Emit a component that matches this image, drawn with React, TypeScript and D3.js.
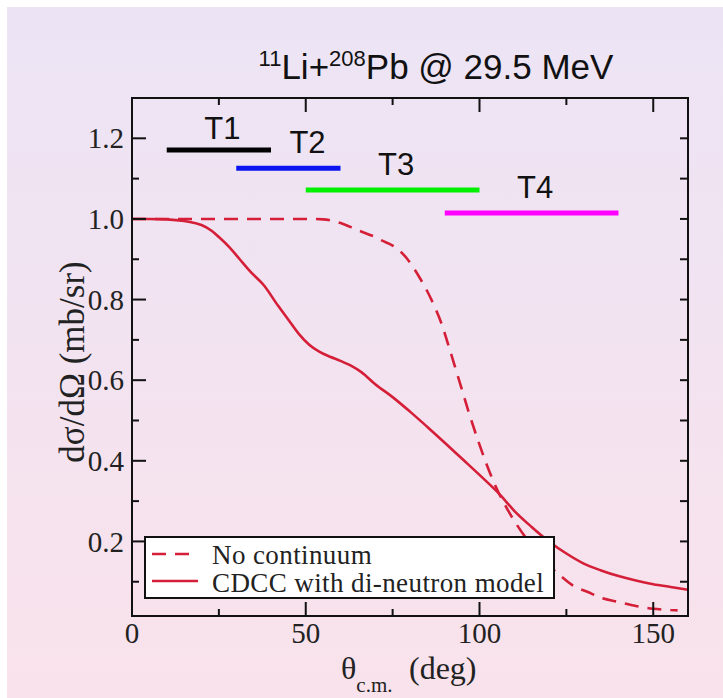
import React from "react";
import * as d3 from "d3";

// Angular distributions (θ in degrees, cross-section ratio)
const noContTheta = [0, 50, 55, 60, 65, 70, 72, 75, 77, 79, 81, 83, 85, 87, 89, 91, 93, 95, 97, 99.4, 102, 105, 108, 111, 115, 120, 124, 127, 131, 135, 140, 145, 150, 155, 157];
const noContValue = [1.0, 1.0, 0.999, 0.99, 0.972, 0.955, 0.946, 0.934, 0.921, 0.903, 0.879, 0.851, 0.82, 0.784, 0.742, 0.688, 0.632, 0.575, 0.518, 0.455, 0.392, 0.33, 0.28, 0.238, 0.19, 0.14, 0.11, 0.09, 0.075, 0.06, 0.05, 0.04, 0.033, 0.03, 0.029];

const cdccTheta = [0, 5, 10, 15, 18, 20, 23, 25, 28, 31, 34, 38, 42, 45, 48, 51, 54, 57, 60, 63, 66, 70, 75, 80, 85, 90, 95, 100, 106, 110, 115, 120, 125, 130, 135, 140, 145, 150, 155, 160];
const cdccValue = [1.0, 1.0, 0.999, 0.995, 0.99, 0.985, 0.97, 0.955, 0.93, 0.9, 0.87, 0.835, 0.785, 0.75, 0.715, 0.688, 0.67, 0.658, 0.648, 0.636, 0.62, 0.59, 0.558, 0.522, 0.484, 0.445, 0.405, 0.365, 0.315, 0.276, 0.236, 0.2, 0.17, 0.145, 0.128, 0.114, 0.103, 0.094, 0.087, 0.08];

// Angular windows T1..T4
const windowNames = ["T1", "T2", "T3", "T4"];
const windowStart = [10, 30, 50, 90];
const windowEnd = [40, 60, 100, 140];
const windowLevel = [1.171, 1.126, 1.072, 1.015];
const windowLabelX = [26, 50.5, 76, 116];
const windowLabelY = [1.198, 1.164, 1.109, 1.052];
const windowColors = ["#000000", "#0a14f0", "#00f000", "#ff00ff"];

const xTicks = [0, 50, 100, 150];
const xMinorTicks = [25, 75, 125];
const yTicks = [0.2, 0.4, 0.6, 0.8, 1.0, 1.2];
const yTickLabels = ["0.2", "0.4", "0.6", "0.8", "1.0", "1.2"];
const yMinorTicks = [0.1, 0.3, 0.5, 0.7, 0.9, 1.1];

const legendLabels = ["No continuum", "CDCC with di-neutron model"];

const W = 723;
const H = 698;
const left = 132, right = 688, top = 98, bottom = 616;

export default function App() {
  const x = d3.scaleLinear().domain([0, 160]).range([left, right]);
  const y = d3.scaleLinear().domain([0.015, 1.3]).range([bottom, top]);

  const line = d3
    .line<[number, number]>()
    .x((d) => x(d[0]))
    .y((d) => y(d[1]))
    .curve(d3.curveMonotoneX);

  const noCont = noContTheta.map((t, i) => [t, noContValue[i]] as [number, number]);
  const cdcc = cdccTheta.map((t, i) => [t, cdccValue[i]] as [number, number]);

  const red = "#d51f38";
  const serif = "'Liberation Serif', 'Times New Roman', serif";
  const sans = "'Liberation Sans', Arial, sans-serif";

  return (
    <svg
      width={W}
      height={H}
      style={{ position: "absolute", left: 0, top: 0, display: "block" }}
    >
      <defs>
        <linearGradient id="bg" x1="0" y1="0" x2="0" y2="1">
          <stop offset="0" stopColor="#ece4f5" />
          <stop offset="1" stopColor="#f9e2eb" />
        </linearGradient>
        <clipPath id="plot">
          <rect x={left} y={top} width={right - left} height={bottom - top} />
        </clipPath>
      </defs>
      <rect x={0} y={0} width={W} height={H} fill="#ffffff" />
      <rect x={7} y={7} width={W - 7} height={H - 7} fill="url(#bg)" />

      {/* title */}
      <text x={436} y={79} textAnchor="middle" fontFamily={sans} fontSize={35} fill="#111">
        <tspan fontSize={22} dy={-13}>11</tspan>
        <tspan dy={13}>Li+</tspan>
        <tspan fontSize={22} dy={-13}>208</tspan>
        <tspan dy={13}>Pb @ 29.5 MeV</tspan>
      </text>

      {/* curves */}
      <g clipPath="url(#plot)" fill="none" stroke={red} strokeWidth={2.6}>
        <path d={line(noCont) || ""} strokeDasharray="14,9" />
        <path d={line(cdcc) || ""} />
      </g>

      {/* angular windows */}
      {windowNames.map((n, i) => (
        <g key={n}>
          <line
            x1={x(windowStart[i])}
            x2={x(windowEnd[i])}
            y1={y(windowLevel[i])}
            y2={y(windowLevel[i])}
            stroke={windowColors[i]}
            strokeWidth={5}
          />
          <text
            x={x(windowLabelX[i])}
            y={y(windowLabelY[i])}
            textAnchor="middle"
            fontFamily={sans}
            fontSize={31}
            fill="#111"
          >
            {n}
          </text>
        </g>
      ))}

      {/* frame and ticks */}
      <rect x={left} y={top} width={right - left} height={bottom - top} fill="none" stroke="#111" strokeWidth={2} />
      <g stroke="#111" strokeWidth={2}>
        {xTicks.map((t) => (
          <g key={"xt" + t}>
            <line x1={x(t)} x2={x(t)} y1={bottom} y2={bottom - 14} />
            <line x1={x(t)} x2={x(t)} y1={top} y2={top + 14} />
          </g>
        ))}
        {xMinorTicks.map((t) => (
          <g key={"xm" + t}>
            <line x1={x(t)} x2={x(t)} y1={bottom} y2={bottom - 7} />
            <line x1={x(t)} x2={x(t)} y1={top} y2={top + 7} />
          </g>
        ))}
        {yTicks.map((t) => (
          <g key={"yt" + t}>
            <line x1={left} x2={left + 14} y1={y(t)} y2={y(t)} />
            <line x1={right} x2={right - 8} y1={y(t)} y2={y(t)} />
          </g>
        ))}
        {yMinorTicks.map((t) => (
          <g key={"ym" + t}>
            <line x1={left} x2={left + 7} y1={y(t)} y2={y(t)} />
            <line x1={right} x2={right - 8} y1={y(t)} y2={y(t)} />
          </g>
        ))}
      </g>

      {/* tick labels */}
      <g fontFamily={serif} fontSize={29} fill="#222">
        {xTicks.map((t) => (
          <text key={"xl" + t} x={x(t)} y={643} textAnchor="middle">
            {t}
          </text>
        ))}
        {yTicks.map((t, i) => (
          <text key={"yl" + t} x={124} y={y(t)} dy="0.35em" textAnchor="end">
            {yTickLabels[i]}
          </text>
        ))}
      </g>

      {/* axis titles */}
      <text x={341} y={679} fontFamily={serif} fontSize={32} fill="#222">
        <tspan>θ</tspan>
        <tspan fontSize={21} dy={13}>c.m.</tspan>
        <tspan x={409} dy={-13}>(deg)</tspan>
      </text>
      <text
        transform={`translate(84, 362) rotate(-90)`}
        textAnchor="middle"
        fontFamily={serif}
        fontSize={35}
        fill="#222"
      >
        dσ/dΩ (mb/sr)
      </text>

      {/* legend */}
      <g>
        <rect x={145} y={537} width={409} height={61} fill="#ffffff" stroke="#111" strokeWidth={2} />
        <line x1={152} x2={198} y1={554} y2={554} stroke={red} strokeWidth={2.6} strokeDasharray="14,9" />
        <line x1={152} x2={198} y1={581} y2={581} stroke={red} strokeWidth={2.6} />
        <text x={212} y={564} fontFamily={serif} fontSize={27} letterSpacing={0.4} fill="#222">
          {legendLabels[0]}
        </text>
        <text x={212} y={592} fontFamily={serif} fontSize={27} letterSpacing={0.4} fill="#222">
          {legendLabels[1]}
        </text>
      </g>
    </svg>
  );
}
